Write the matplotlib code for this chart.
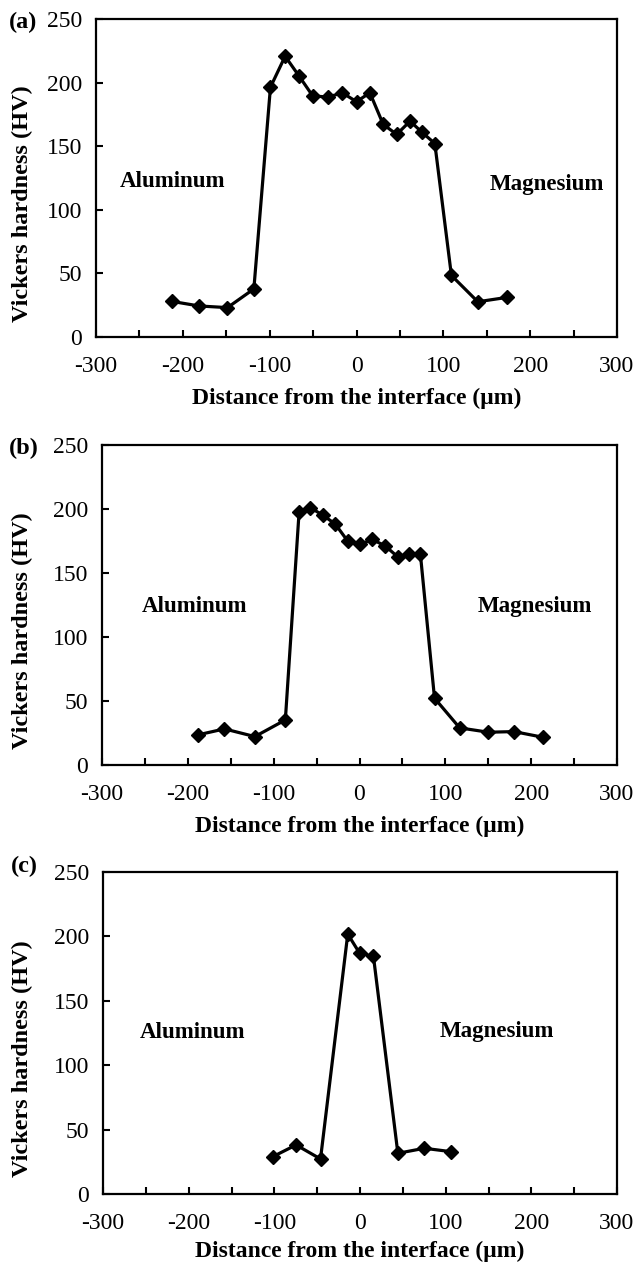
import matplotlib
matplotlib.use("Agg")
import matplotlib.pyplot as plt
from matplotlib.ticker import MultipleLocator

plt.rcParams['font.family'] = ['Liberation Serif', 'DejaVu Serif']
plt.rcParams['axes.unicode_minus'] = False

# Panel (a)
xa = [-212.6, -181.3, -148.6, -118.2, -99.1, -82.2, -66.4, -50.5, -32.7, -16.4, 0.0,
      15.4, 30.8, 46.3, 61.7, 75.2, 90.2, 109.3, 139.7, 172.9]
ya = [28.0, 24.4, 23.1, 37.8, 196.4, 220.7, 205.4, 189.6, 188.6, 192.0, 185.0,
      192.0, 167.1, 159.3, 169.7, 161.1, 152.1, 48.4, 27.7, 31.1]

# Panel (b)
xb = [-188.5, -157.3, -121.9, -86.4, -70.4, -57.2, -43.0, -28.3, -13.7, 0.0,
      15.1, 30.2, 44.4, 58.1, 70.9, 87.4, 116.7, 150.2, 180.0, 213.5]
yb = [23.5, 28.2, 22.2, 35.2, 197.4, 201.0, 195.3, 188.3, 174.9, 172.3,
      176.2, 171.0, 162.7, 164.5, 165.0, 52.2, 29.0, 25.6, 26.1, 21.7]

# Panel (c)
xc = [-101.7, -74.6, -46.1, -14.3, -0.5, 15.7, 44.2, 75.1, 105.9]
yc = [29.0, 38.1, 27.2, 201.8, 187.0, 184.5, 31.6, 35.5, 32.9]

panel_labels = ['(a)', '(b)', '(c)']
xticks = [-300, -200, -100, 0, 100, 200, 300]
yticks = [0, 50, 100, 150, 200, 250]

fig = plt.figure(figsize=(6.34, 12.64), dpi=100)

# left, top, right, bottom in pixels
px_boxes = [(96, 19, 617, 337), (102, 445, 617, 765), (103, 872, 617, 1194)]
texts = [
    ((-212, 122), (219, 120)),
    ((-192, 124), (204, 124)),
    ((-196, 125), (160, 126)),
]
xlabelpads = [8, 8, 5]
plab_pos = [(9, 22), (9, 448), (11, 866)]

for i, (xs, ys) in enumerate([(xa, ya), (xb, yb), (xc, yc)]):
    l, t, r, b = px_boxes[i]
    ax = fig.add_axes((l/634, 1-b/1264, (r-l)/634, (b-t)/1264))
    ax.plot(xs, ys, color='black', lw=2.3, marker='D', ms=7.5, mfc='black', mec='black')
    ax.set_xlim(-300, 300)
    ax.set_ylim(0, 250)
    ax.set_xticks(xticks)
    ax.set_yticks(yticks)
    ax.xaxis.set_minor_locator(MultipleLocator(50))
    ax.tick_params(axis='both', which='both', direction='in', labelsize=17,
                   width=1.5, top=False, right=False)
    ax.tick_params(axis='both', which='major', length=5)
    ax.tick_params(axis='x', which='major', pad=13.5)
    ax.tick_params(axis='y', which='major', pad=10)
    ax.tick_params(axis='x', which='minor', length=5)
    for sp in ax.spines.values():
        sp.set_linewidth(1.6)
    ax.set_xlabel('Distance from the interface (\u03bcm)', fontsize=17,
                  fontweight='bold', labelpad=xlabelpads[i])
    ax.set_ylabel('Vickers hardness (HV)', fontsize=17.5, fontweight='bold')
    ax.yaxis.set_label_coords((33 - l)/(r - l), 0.42)
    (ax_al, ay_al), (ax_mg, ay_mg) = texts[i]
    ax.text(ax_al, ay_al, 'Aluminum', fontsize=16.5, fontweight='bold',
            ha='center', va='center')
    ax.text(ax_mg, ay_mg, 'Magnesium', fontsize=16.5, fontweight='bold',
            ha='center', va='center')
    px, py = plab_pos[i]
    fig.text(px/634, 1-py/1264, panel_labels[i], fontsize=17.5, fontweight='bold',
             ha='left', va='center')

fig.savefig('out.png', dpi=100)
